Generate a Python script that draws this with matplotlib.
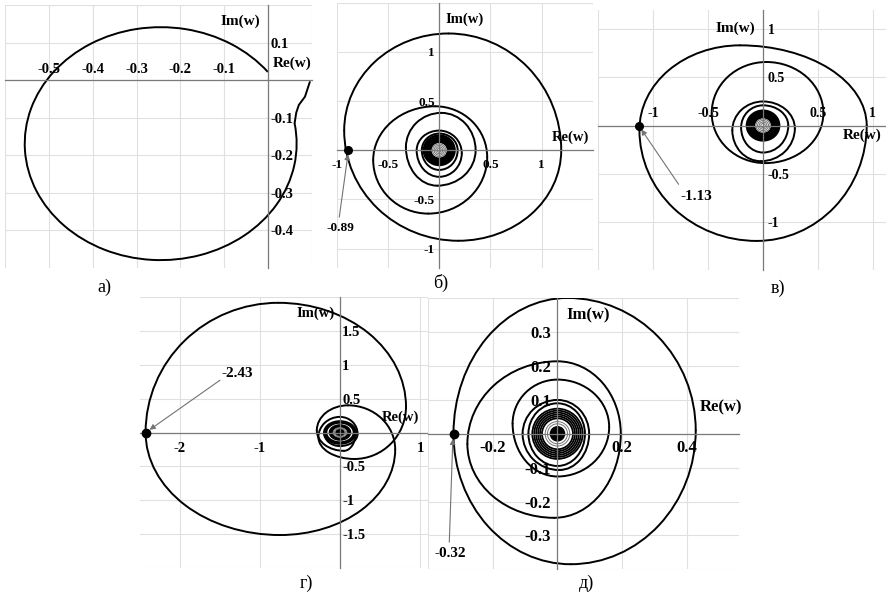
import matplotlib
matplotlib.use("Agg")
from matplotlib import pyplot as plt
from matplotlib.patches import Arc, Ellipse

plt.rcParams["font.family"] = ["Liberation Serif", "DejaVu Serif"]
plt.rcParams["font.weight"] = "bold"
plt.rcParams["axes.unicode_minus"] = False

W, H = 887, 597
LW = 1.4
GRID = "#e0e0e0"
AXIS = "#7a7a7a"

# ---------------- а) ----------------
a_circle_center = (-0.245, -0.169)
a_circle_radius = 0.31
a_circle_deg = (38, 370)
a_tail_x = [0.095, 0.084, 0.070, 0.064, 0.0603]
a_tail_y = [-0.005, -0.044, -0.066, -0.087, -0.115]
a_xgrid = [-0.6, -0.5, -0.4, -0.3, -0.2, -0.1, 0.0, 0.1]
a_ygrid = [-0.5, -0.4, -0.3, -0.2, -0.1, 0.0, 0.1, 0.2]
a_xticks = [-0.5, -0.4, -0.3, -0.2, -0.1]
a_yticks = [0.1, -0.1, -0.2, -0.3, -0.4]

# ---------------- б) ----------------
# each loop: right, top, left, bottom, right extreme points
b_loops_x = [
    [1.19, 0.09, -0.927, 0.187, 1.19],
    [0.468, -0.04, -0.644, -0.107, 0.468],
    [0.355, 0.02, -0.325, -0.02, 0.355],
    [0.22, 0.0, -0.22, 0.0, 0.22],
    [0.18, 0.0, -0.17, 0.0, 0.18],
]
b_loops_y = [
    [0.0, 1.187, 0.2, -0.92, 0.0],
    [-0.07, 0.447, -0.10, -0.644, -0.07],
    [0.0, 0.38, 0.03, -0.36, 0.0],
    [-0.03, 0.2, 0.0, -0.27, -0.03],
    [0.0, 0.17, 0.0, -0.2, 0.0],
]
b_core_dark = [0.153, 0.143, 0.133, 0.123, 0.113, 0.103, 0.093, 0.083]
b_core_light = [0.065, 0.05, 0.035, 0.02]
b_dot = -0.89
b_xgrid = [-1, -0.5, 0, 0.5, 1, 1.5]
b_ygrid = [-1, -0.5, 0, 0.5, 1, 1.5]
b_xticks = [-1, -0.5, 0.5, 1]
b_yticks = [1, 0.5, -0.5, -1]

# ---------------- в) ----------------
c_loops_x = [
    [0.945, -0.21, -1.127, -0.058, 0.945],
    [0.55, 0.03, -0.468, 0.02, 0.55],
    [0.29, 0.0, -0.28, -0.02, 0.29],
    [0.23, 0.0, -0.2, 0.0, 0.23],
]
c_loops_y = [
    [0.0, 0.833, -0.045, -1.198, 0.0],
    [0.13, 0.66, 0.13, -0.39, 0.13],
    [-0.03, 0.25, -0.05, -0.37, -0.03],
    [0.0, 0.21, -0.02, -0.28, 0.0],
]
c_core_dark = [0.15, 0.14, 0.13, 0.12, 0.11, 0.10, 0.09, 0.08]
c_core_light = [0.065, 0.05, 0.035, 0.02]
c_dot = -1.13
c_xgrid = [-1.5, -1, -0.5, 0, 0.5, 1]
c_ygrid = [-1.5, -1, -0.5, 0, 0.5, 1]
c_xticks = [-1, -0.5, 0.5, 1]
c_yticks = [1, 0.5, -0.5, -1]

# ---------------- г) ----------------
# one open spiral, extreme points alternating horizontal / vertical
g_path_x = [0.2, 0.05, -0.29, 0.1, 0.69, -0.75, -2.43, -0.77, 0.825, 0.18, -0.27, 0.0, 0.22, 0.0, -0.2]
g_path_y = [0.02, -0.27, 0.03, 0.4, -0.25, -1.51, 0.0, 1.91, 0.38, -0.39, -0.07, 0.23, -0.02, -0.2, 0.0]
g_core_dark = [0.2, 0.185, 0.17, 0.13, 0.115, 0.10]
g_core_light = [0.085, 0.07]
g_dot = -2.43
g_xgrid = [-2, -1, 0, 1]
g_ygrid = [-2, -1.5, -1, -0.5, 0, 0.5, 1, 1.5, 2]
g_xticks = [-2, -1, 1]
g_yticks = [1.5, 1, 0.5, -0.5, -1, -1.5]

# ---------------- д) ----------------
d_loops_x = [
    [0.428, 0.031, -0.322, 0.041, 0.428],
    [0.196, 0.0, -0.279, -0.01, 0.196],
    [0.16, 0.0, -0.139, 0.0, 0.16],
    [0.098, 0.0, -0.108, 0.005, 0.098],
    [0.085, 0.0, -0.09, 0.0, 0.085],
]
d_loops_y = [
    [0.01, 0.401, 0.0, -0.385, 0.01],
    [0.0, 0.214, -0.03, -0.248, 0.0],
    [0.02, 0.16, 0.03, -0.126, 0.02],
    [0.0, 0.10, 0.0, -0.107, 0.0],
    [0.0, 0.09, 0.0, -0.095, 0.0],
]
d_core_dark = [0.078, 0.072, 0.066, 0.060, 0.054, 0.048]
d_core_light = [0.038, 0.031]
d_dot = -0.32
d_xgrid = [-0.4, -0.2, 0, 0.2, 0.4]
d_ygrid = [-0.4, -0.3, -0.2, -0.1, 0, 0.1, 0.2, 0.3, 0.4]
d_xticks = [-0.2, 0.2, 0.4]
d_yticks = [0.3, 0.2, 0.1, -0.1, -0.2, -0.3]


fig = plt.figure(figsize=(W / 100, H / 100), dpi=100, facecolor="white")


def setup(box, xlim, ylim, xgrid, ygrid, xticks, yticks, xside, yside, xpad, ypad, size):
    x0, y0, x1, y1 = box
    ax = fig.add_axes([x0 / W, 1 - y1 / H, (x1 - x0) / W, (y1 - y0) / H])
    for s in ax.spines.values():
        s.set_visible(False)
    for side in (xside, yside):
        ax.spines[side].set_visible(True)
        ax.spines[side].set_position(("data", 0))
        ax.spines[side].set_color(AXIS)
        ax.spines[side].set_linewidth(0.9)
    ax.xaxis.set_ticks_position(xside)
    ax.yaxis.set_ticks_position(yside)
    ax.set_xticks(xgrid, minor=True)
    ax.set_yticks(ygrid, minor=True)
    ax.set_xticks(xticks, labels=[f"{v:g}" for v in xticks])
    ax.set_yticks(yticks, labels=[f"{v:g}" for v in yticks])
    ax.set_xlim(*xlim)
    ax.set_ylim(*ylim)
    ax.tick_params(which="both", length=0, labelsize=size)
    ax.tick_params(axis="x", pad=xpad)
    ax.tick_params(axis="y", pad=ypad)
    ax.grid(True, which="both", color=GRID, lw=0.8)
    ax.set_axisbelow(True)
    ax.patch.set_alpha(0)
    return ax


def draw_path(ax, xs, ys):
    # consecutive extreme points: even index = left/right extreme, odd = top/bottom extreme
    for i in range(len(xs) - 1):
        if i % 2 == 0:
            hx, hy, vx, vy = xs[i], ys[i], xs[i + 1], ys[i + 1]
        else:
            vx, vy, hx, hy = xs[i], ys[i], xs[i + 1], ys[i + 1]
        cx, cy = vx, hy
        w, h = 2 * abs(hx - cx), 2 * abs(vy - cy)
        if w == 0 or h == 0:
            continue
        ah = 0 if hx > cx else 180
        av = 90 if vy > cy else 270
        t1, t2 = (270, 360) if (ah, av) == (0, 270) else (min(ah, av), max(ah, av))
        ax.add_patch(Arc((cx, cy), w, h, theta1=t1, theta2=t2, color="black",
                         lw=LW, capstyle="round"))


def draw_core(ax, dark, light, ratio, dot=0.0):
    for r in dark:
        ax.add_patch(Ellipse((0, 0), 2 * r, 2 * r * ratio, fill=False, color="black", lw=1.3))
    for r in light:
        ax.add_patch(Ellipse((0, 0), 2 * r, 2 * r * ratio, fill=False, color="0.45", lw=0.7))
    if dot:
        ax.add_patch(Ellipse((0, 0), 2 * dot, 2 * dot * ratio, color="black"))


def mark(ax, x, tip, tail, text_xy, size, ms):
    ax.plot([x], [0], "o", color="black", ms=ms, zorder=5)
    ax.annotate("", xy=tip, xytext=tail,
                arrowprops=dict(arrowstyle="-|>", color="0.45", lw=0.8,
                                mutation_scale=8, shrinkA=0, shrinkB=0))
    ax.text(*text_xy, f"{x:g}", ha="center", va="center", fontsize=size)


def titles(ax, im_xy, re_xy, size):
    ax.text(*im_xy, "Im(w)", ha="center", va="center", fontsize=size)
    ax.text(*re_xy, "Re(w)", ha="center", va="center", fontsize=size)


# а)
ax = setup((5, 5, 312, 268), (-0.6, 0.1), (-0.5, 0.2), a_xgrid, a_ygrid, a_xticks, a_yticks,
           "top", "right", 3, 2, 10.5)
ax.add_patch(Arc(a_circle_center, 2 * a_circle_radius, 2 * a_circle_radius,
                 theta1=a_circle_deg[0], theta2=a_circle_deg[1], color="black", lw=LW))
ax.plot(a_tail_x, a_tail_y, color="black", lw=LW, solid_capstyle="round")
titles(ax, (-0.064, 0.157), (0.054, 0.046), 11)

# б)
ax = setup((336.7, 2.7, 593, 268.3), (-1, 1.5), (-1.2, 1.5), b_xgrid, b_ygrid, b_xticks, b_yticks,
           "bottom", "left", 6.5, 3, 9.5)
for xs, ys in zip(b_loops_x, b_loops_y):
    draw_path(ax, xs, ys)
draw_core(ax, b_core_dark, b_core_light, 1.0)
mark(ax, b_dot, (-0.89, -0.04), (-0.975, -0.68), (-0.96, -0.79), 9.5, 5.5)
titles(ax, (0.25, 1.33), (1.275, 0.135), 10.5)

# в)
ax = setup((598.5, 10, 887, 270), (-1.5, 1.13), (-1.5, 1.2), c_xgrid, c_ygrid, c_xticks, c_yticks,
           "top", "right", 4, 3.5, 10)
for xs, ys in zip(c_loops_x, c_loops_y):
    draw_path(ax, xs, ys)
draw_core(ax, c_core_dark, c_core_light, 1.05)
mark(ax, c_dot, (-1.11, -0.04), (-0.77, -0.61), (-0.61, -0.737), 11, 5.5)
titles(ax, (-0.255, 1.006), (0.907, -0.105), 11)

# г)
ax = setup((140, 296.7, 428, 568.3), (-2.5, 1.1), (-2, 2), g_xgrid, g_ygrid, g_xticks, g_yticks,
           "bottom", "right", 6.5, 1.5, 10.5)
draw_path(ax, g_path_x, g_path_y)
draw_core(ax, g_core_dark, g_core_light, 0.84, dot=0.05)
mark(ax, g_dot, (-2.38, 0.04), (-1.5, 0.77), (-1.28, 0.875), 11, 6)
titles(ax, (-0.31, 1.755), (0.75, 0.23), 10.5)

# д)
ax = setup((428.3, 298.3, 739, 569.3), (-0.4, 0.562), (-0.4, 0.4), d_xgrid, d_ygrid, d_xticks, d_yticks,
           "bottom", "left", 4.5, 4.5, 12)
for xs, ys in zip(d_loops_x, d_loops_y):
    draw_path(ax, xs, ys)
draw_core(ax, d_core_dark, d_core_light, 0.95, dot=0.022)
mark(ax, d_dot, (-0.324, -0.015), (-0.335, -0.32), (-0.332, -0.352), 11, 6)
titles(ax, (0.095, 0.349), (0.507, 0.077), 12)

# panel captions
for label, x, y in [("а)", 104, 287), ("б)", 441, 283), ("в)", 778, 288), ("г)", 306, 583), ("д)", 587, 583)]:
    fig.text(x / W, 1 - y / H, label, ha="center", va="center", fontsize=13, fontweight="normal")

fig.savefig("out.png", dpi=100, facecolor="white")
